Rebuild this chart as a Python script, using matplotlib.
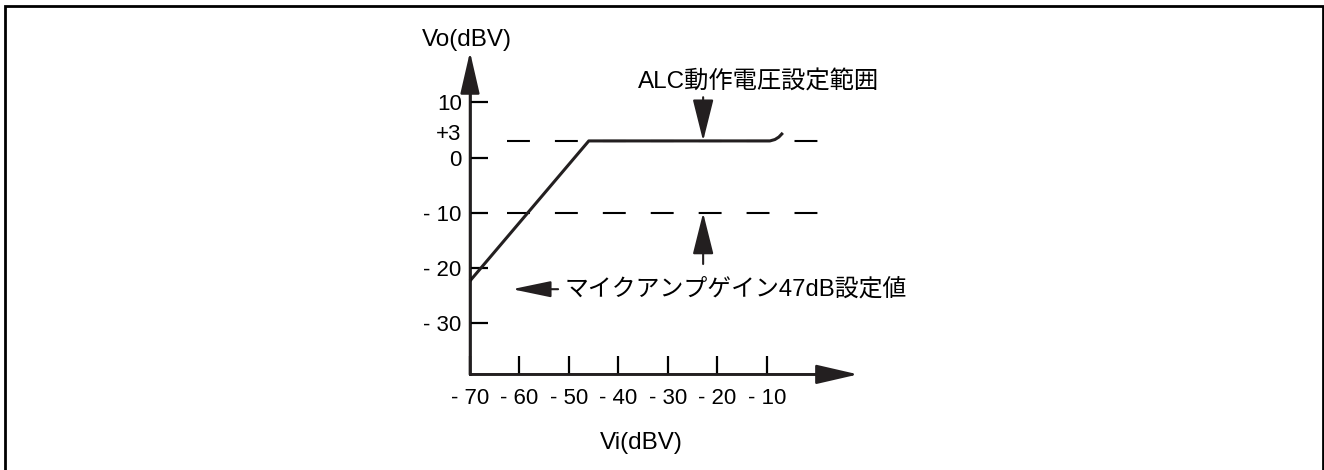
import matplotlib
matplotlib.use("Agg")
import matplotlib.pyplot as plt

plt.rcParams['font.family'] = ['Liberation Sans', 'Noto Sans CJK JP', 'DejaVu Sans']

# ALC characteristic (schematic)
vi = [-70, -46, -9.4, -8.4, -7.6, -6.8]
vo = [-22.3, 3, 3, 3.25, 3.7, 4.45]

xticks = [-70, -60, -50, -40, -30, -20, -10]
xlabels = ['- 70', '- 60', '- 50', '- 40', '- 30', '- 20', '- 10']
yticks = [10, 0, -10, -20, -30]
ylabels = ['10', '0', '- 10', '- 20', '- 30']
ref_levels = [3, -10]          # dashed lines
x_origin, y_origin = -70, -39.2
x_tip, y_tip = 8.4, 19.1
alc_x = -22.9

fig = plt.figure(figsize=(13.24, 4.70), dpi=100)
ax = fig.add_axes([0, 0, 1, 1])
ax.set_xlim(-164.95, 102.53)
ax.set_ylim(-56.48, 28.47)
ax.patch.set_alpha(0)

# frame around figure
fig.patches.append(plt.Rectangle((5 / 1324, -0.05), 1317.5 / 1324, 1.05 - 6.5 / 470,
                                 transform=fig.transFigure, fill=False,
                                 lw=2, ec='black'))

for s in ['top', 'right']:
    ax.spines[s].set_visible(False)
ax.spines['left'].set_position(('data', x_origin))
ax.spines['bottom'].set_position(('data', y_origin))
ax.spines['left'].set_bounds(y_origin, 16)
ax.spines['bottom'].set_bounds(x_origin, 5)
ax.spines['left'].set_linewidth(1.8)
ax.spines['bottom'].set_linewidth(1.8)

ax.set_xticks(xticks, xlabels, fontsize=16)
ax.set_yticks(yticks, ylabels, fontsize=16)
ax.tick_params(axis='both', direction='in', length=13, width=1.6, color='black')
ax.tick_params(axis='y', pad=6)
ax.tick_params(axis='x', pad=10)

# axis arrow heads
arr = dict(arrowstyle='-|>,head_length=2.6,head_width=0.6', color='#231f20',
           lw=1.8, shrinkA=0, shrinkB=0, mutation_scale=10)
ax.annotate('', xy=(x_origin, y_tip), xytext=(x_origin, y_origin), arrowprops=arr)
ax.annotate('', xy=(x_tip, y_origin), xytext=(x_origin, y_origin), arrowprops=arr)

# dashed reference levels
for lv in ref_levels:
    ax.plot([-62.5, 0.3], [lv, lv], color='black', lw=1.5,
            linestyle=(0, (11.0, 12.0)))

ax.plot(vi, vo, color='#231f20', lw=2.2, solid_capstyle='butt')

ax.text(-71.8, 4.1, '+3', ha='right', va='center', fontsize=16)
ax.text(-70.6, 21.2, 'Vo(dBV)', ha='center', va='center', fontsize=17.5)
ax.text(-35.3, -51.6, 'Vi(dBV)', ha='center', va='center', fontsize=17.5)

# annotations
varr = dict(arrowstyle='-|>,head_length=2.6,head_width=0.65', color='#231f20',
            lw=1.5, shrinkA=0, shrinkB=0, mutation_scale=10)
ax.annotate('', xy=(alc_x, 3), xytext=(alc_x, 10.9), arrowprops=varr)
ax.annotate('', xy=(alc_x, -10), xytext=(alc_x, -19.25), arrowprops=varr)
ax.text(-36.1, 13.6, 'ALC動作電圧設定範囲', ha='left', va='center', fontsize=17.5)

harr = dict(arrowstyle='-|>,head_length=2.4,head_width=0.5', color='#231f20',
            lw=1.5, shrinkA=0, shrinkB=0, mutation_scale=10)
ax.annotate('', xy=(-61.5, -23.8), xytext=(-52.2, -23.8), arrowprops=harr)
ax.text(-50.8, -23.8, 'マイクアンプゲイン47dB設定値', ha='left', va='center', fontsize=17.2)

fig.savefig('out.png', dpi=100)
